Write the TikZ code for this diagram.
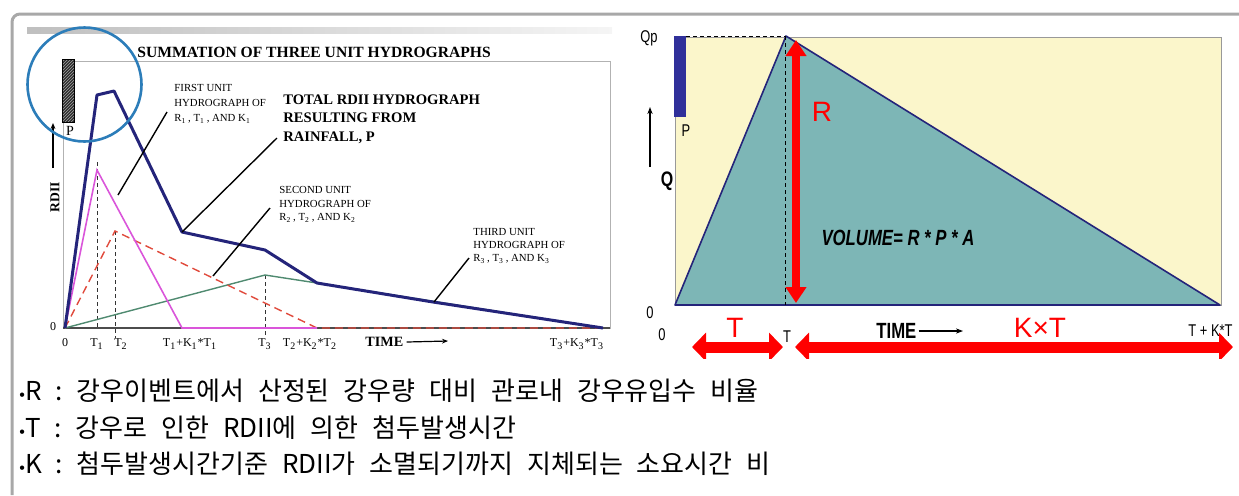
\documentclass[tikz,border=0pt]{standalone}
\usepackage{fontspec}
\setmainfont{Liberation Serif}
\setsansfont{Liberation Sans}
\newfontfamily\condsf[FakeStretch=0.76]{Liberation Sans}
\newfontfamily\krfont[WordSpace=2.4]{Noto Sans CJK KR}
\usetikzlibrary{arrows.meta}
\definecolor{hgnavy}{HTML}{24247A}
\definecolor{hgpink}{HTML}{DA55DA}
\definecolor{hgred}{HTML}{E04A3C}
\definecolor{hggreen}{HTML}{4F8A70}
\definecolor{hgcircle}{HTML}{2C7DB9}
\definecolor{hgyellow}{HTML}{FBF6CB}
\definecolor{hgteal}{HTML}{7DB6B6}
\definecolor{hgbar}{HTML}{30309A}
\definecolor{hgframe}{HTML}{A8A8A8}

\tikzset{
  leader/.style={black, line width=0.7pt},
  guide/.style={black!80, dash pattern=on 2pt off 1.5pt, line width=0.5pt},
  serifsmall/.style={inner sep=0pt, font=\fontsize{5.4}{7.5}\selectfont, align=left},
  ticklbl/.style={inner sep=0pt, font=\fontsize{6}{7}\selectfont},
  sanslbl/.style={inner sep=0pt, font=\condsf\fontsize{8.5}{9}\selectfont},
  redlbl/.style={inner sep=0pt, red, font=\sffamily\fontsize{14}{15}\selectfont},
  bigarrow/.style={red, line width=5.5pt, {Triangle[length=7pt,width=14pt]}-{Triangle[length=7pt,width=14pt]}},
  krline/.style={anchor=west, inner sep=0pt, font=\krfont\fontsize{13}{15}\selectfont}
}

\begin{document}
\begin{tikzpicture}[x=0.5pt, y=-0.5pt]
  \useasboundingbox (0,0) rectangle (1239,495);

  % outer frame
  \draw[hgframe, line width=1.5pt, rounded corners=4pt] (12,495) -- (12,14) -- (1239,14);
  \shade[left color=black!25, right color=black!4] (27,27) rectangle (612,33);

  % ---------- left picture ----------
  \draw[black!30, line width=0.4pt] (63,61) rectangle (610,328);
  \draw[black!70, line width=0.6pt] (63,328) -- (610,328);

  \node[anchor=west, inner sep=0pt, font=\bfseries\fontsize{7.8}{9}\selectfont]
    (title) at (137,52) {SUMMATION OF THREE UNIT HYDROGRAPHS};

  % rainfall bar
  \fill[black!85] (62,59) rectangle (74,122);
  \begin{scope}
    \clip (62,59) rectangle (74,122);
    \foreach \k in {47,50,...,125}
      \draw[white!60!black, line width=0.35pt] (62,\k+12) -- (74,\k);
  \end{scope}
  \draw[black, line width=0.4pt] (62,59) rectangle (74,122);
  \node[inner sep=0pt, font=\fontsize{7}{8}\selectfont] (pleft) at (70,131) {P};

  % axis label
  \coordinate (ylo) at (53,168);
  \coordinate (yhi) at (53,123);
  \draw[line width=0.6pt, -{Stealth[length=3pt,width=2.4pt]}] (ylo) -- (yhi);
  \node[inner sep=0pt, rotate=90, font=\bfseries\fontsize{6.8}{8}\selectfont] (rdii) at (55,197) {RDII};
  \node[ticklbl] (zeroy) at (53,327) {0};

  % curve points
  \coordinate (o) at (65,328);
  \coordinate (b1) at (97,95);
  \coordinate (b2) at (114,91);
  \coordinate (b3) at (182,232);
  \coordinate (b4) at (265,250);
  \coordinate (b5) at (317,283);
  \coordinate (b6) at (433,302);
  \coordinate (e) at (603,328);
  \coordinate (p1) at (97,170);
  \coordinate (p2) at (182,328);
  \coordinate (r1) at (115,231);
  \coordinate (r2) at (317,328);
  \coordinate (g1) at (265,275);

  % guide lines
  \draw[guide] (97,162) -- (97,328);
  \draw[guide] (r1) -- (115,338);
  \draw[guide] (g1) -- (265,335);

  % unit hydrographs
  \draw[hggreen, line width=0.7pt] (o) -- (g1) -- (b5) -- (e);
  \draw[hgred, line width=0.7pt, dash pattern=on 4pt off 2.5pt] (o) -- (r1) -- (r2) -- (e);
  \draw[hgpink, line width=0.8pt] (o) -- (p1) -- (p2) -- (r2);
  \draw[hgnavy, line width=1.5pt, line join=round] (o) -- (b1) -- (b2) -- (b3) -- (b4) -- (b5) -- (b6) -- (e);

  % circle round the rainfall
  \draw[hgcircle, line width=1.3pt] (84.5,84.5) circle [radius=57];

  % labels
  \node[serifsmall, anchor=north west] (firstlbl) at (174,84)
    {FIRST UNIT\\HYDROGRAPH OF\\R\textsubscript{1}\,, T\textsubscript{1}\,, AND K\textsubscript{1}};
  \node[anchor=north west, inner sep=0pt, align=left, font=\bfseries\fontsize{7.3}{9.3}\selectfont]
    (totallbl) at (283,94) {TOTAL RDII HYDROGRAPH\\RESULTING FROM\\RAINFALL, P};
  \node[serifsmall, anchor=north west, font=\fontsize{5.4}{6.8}\selectfont] (secondlbl) at (279,186)
    {SECOND UNIT\\HYDROGRAPH OF\\R\textsubscript{2}\,, T\textsubscript{2}\,, AND K\textsubscript{2}};
  \node[serifsmall, anchor=north west, font=\fontsize{5.4}{6.6}\selectfont] (thirdlbl) at (473,228)
    {THIRD UNIT\\HYDROGRAPH OF\\R\textsubscript{3}\,, T\textsubscript{3}\,, AND K\textsubscript{3}};

  % leaders
  \coordinate (f1) at (167,112);
  \coordinate (f2) at (118,195);
  \coordinate (t1) at (277,138);
  \coordinate (s1) at (270,208);
  \coordinate (s2) at (213,276);
  \coordinate (h1) at (469,258);
  \coordinate (h2) at (434,302);
  \draw[leader] (f1) -- (f2);
  \draw[leader] (t1) -- (b3);
  \draw[leader] (s1) -- (s2);
  \draw[leader] (h1) -- (h2);

  % time axis
  \node[ticklbl] (t0) at (65,343) {0};
  \node[ticklbl] (tone) at (97,344) {T\textsubscript{1}};
  \node[ticklbl] (ttwo) at (121,344) {T\textsubscript{2}};
  \node[ticklbl] (tonek) at (190,344) {T\textsubscript{1}+K\textsubscript{1}*T\textsubscript{1}};
  \node[ticklbl] (tthree) at (265,344) {T\textsubscript{3}};
  \node[ticklbl] (ttwok) at (310,344) {T\textsubscript{2}+K\textsubscript{2}*T\textsubscript{2}};
  \node[ticklbl] (tthreek) at (577,344) {T\textsubscript{3}+K\textsubscript{3}*T\textsubscript{3}};
  \node[anchor=west, inner sep=0pt, font=\bfseries\fontsize{7.1}{8}\selectfont] (timel) at (365,342) {TIME};
  \coordinate (timelend) at (448,341);
  \draw[line width=0.6pt, -{Stealth[length=3pt,width=2.4pt]}] (timel.east) ++(3,0) -- (timelend);

  % ---------- right picture ----------
  \coordinate (q0) at (675,305);
  \coordinate (qp) at (786,36);
  \coordinate (qe) at (1220,305);
  \filldraw[fill=hgyellow, draw=black!40, line width=0.4pt] (675,37) rectangle (1221,305);
  \filldraw[fill=hgteal, draw=hgnavy, line width=0.8pt, line join=round] (q0) -- (qp) -- (qe) -- cycle;
  \draw[hgnavy, line width=1pt] (q0) -- (qe);

  % peak guides
  \draw[guide, black] (686,36) -- (qp);
  \draw[guide, black] (785,36) -- (785,305);

  % rainfall bar
  \fill[hgbar] (674,36) rectangle (686,117);
  \node[sanslbl] (pright) at (686,131) {P};
  \node[sanslbl] (qplbl) at (649,38) {Qp};
  \coordinate (qlo) at (650,167);
  \coordinate (qhi) at (650,107);
  \draw[line width=0.7pt, -{Stealth[length=3.5pt,width=2.6pt]}] (qlo) -- (qhi);
  \node[inner sep=0pt, font=\condsf\bfseries\fontsize{10.5}{11}\selectfont] (qlbl) at (667,181) {Q};
  \node[sanslbl] (zeroa) at (650,313) {0};
  \node[sanslbl] (zerob) at (662,335) {0};

  % R arrow
  \coordinate (rtop) at (796,40);
  \coordinate (rbot) at (796,303);
  \draw[red, line width=3.8pt, {Triangle[length=8pt,width=10pt]}-{Triangle[length=8pt,width=10pt]}] (rtop) -- (rbot);
  \node[redlbl] (rlbl) at (822,112) {R};

  \node[inner sep=0pt, font=\condsf\bfseries\itshape\fontsize{11}{12}\selectfont] (volume) at (898,238) {VOLUME= R * P * A};

  % time labels
  \node[redlbl] (tred) at (735,328) {T};
  \node[sanslbl] (tsmall) at (787,337) {T};
  \node[anchor=west, inner sep=0pt, font=\condsf\bfseries\fontsize{11}{12}\selectfont] (timer) at (876,331) {TIME};
  \coordinate (timerend) at (963,331);
  \draw[line width=0.8pt, -{Stealth[length=3.5pt,width=2.6pt]}] (timer.east) ++(2,0) -- (timerend);
  \node[redlbl] (kt) at (1040,328) {K×T};
  \node[sanslbl, anchor=east] (tkt) at (1233,331) {T + K*T};

  % duration arrows
  \coordinate (da) at (692,347);
  \coordinate (db) at (783,347);
  \coordinate (dc) at (795,347);
  \coordinate (dd) at (1233,347);
  \begin{scope}
    \clip (620,0) rectangle (1239,358);
    \draw[bigarrow] (da) -- (db);
    \draw[bigarrow] (dc) -- (dd);
  \end{scope}

  % ---------- definitions ----------
  \node[krline] (defr) at (19,391) {{\sffamily\fontsize{8}{8}\selectfont •}R : 강우이벤트에서 산정된 강우량 대비 관로내 강우유입수 비율};
  \node[krline] (deft) at (19,428) {{\sffamily\fontsize{8}{8}\selectfont •}T : 강우로 인한 RDII에 의한 첨두발생시간};
  \node[krline] (defk) at (19,464) {{\sffamily\fontsize{8}{8}\selectfont •}K : 첨두발생시간기준 RDII가 소멸되기까지 지체되는 소요시간 비};
\end{tikzpicture}
\end{document}
